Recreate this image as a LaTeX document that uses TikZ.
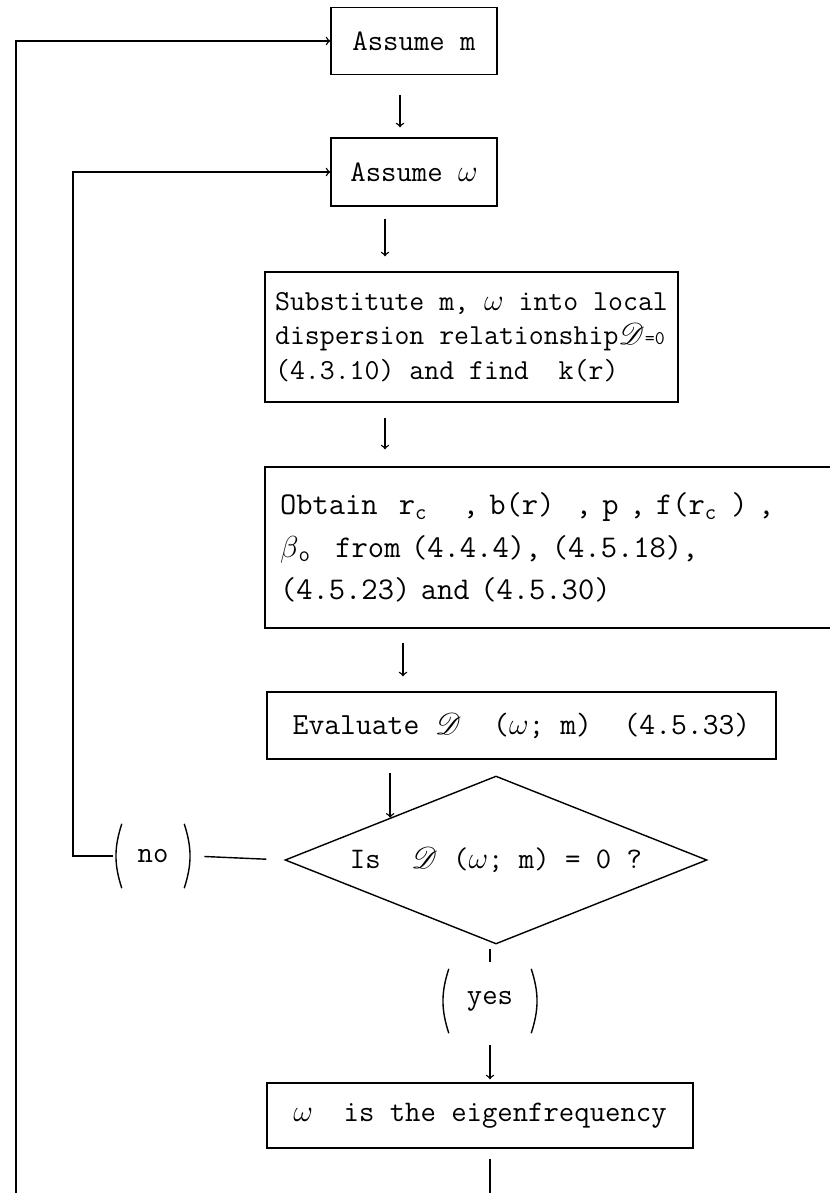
\documentclass[tikz,border=0pt]{standalone}
\usepackage{fontspec}
\usepackage{amsmath}
\usepackage{mathrsfs}
\usepackage{tikz}
\usetikzlibrary{
    shapes.geometric,
    positioning,
    calc,
    arrows
}
\newcommand{\lowsub}[1]{\makebox[0.5em][l]{$_{\text{#1}}$}}
\tikzset{
  basic/.style = {
      font=\fontsize{17}{21}\selectfont\ttfamily,
      align=center,
      inner sep=0pt
  },
  box/.style = {
      basic,
      draw,
      line width=0.8pt,
      rectangle
  },
  decision/.style = {
      basic,
      draw,
      line width=0.8pt,
      diamond,
      aspect=2.52,
      minimum width=8.44cm,
      minimum height=3.36cm
  },
  paren/.style = {
      basic,
      minimum width=1.6cm,
      minimum height=1.36cm,
      path picture={
        \draw[line width=0.8pt]
          ([xshift=5pt,yshift=-1pt]path picture bounding box.north west)
          to[bend right=18] ([xshift=5pt,yshift=1pt]path picture bounding box.south west);
        \draw[line width=0.8pt]
          ([xshift=-5pt,yshift=-1pt]path picture bounding box.north east)
          to[bend left=18] ([xshift=-5pt,yshift=1pt]path picture bounding box.south east);
      }
  },
  line/.style = {
      line width=0.8pt
  },
  flow/.style = {
      line,
      ->,
      >=to
  }
}

\begin{document}
\begin{tikzpicture}[x=0.02cm, y=-0.02cm]
    \useasboundingbox (0,0) rectangle (829,1193);
    % Nodes
    \node[box, minimum width=3.32cm, minimum height=1.34cm] (m) at (414,41) {Assume m};
    \node[box, minimum width=3.32cm, minimum height=1.36cm] (w) at (414,172) {Assume $\omega$};
    \node[box, minimum width=8.26cm, minimum height=2.6cm, align=left,
          font=\fontsize{16.5}{19.5}\selectfont\ttfamily] (sub) at (471.5,337)
        {Substitute m, $\omega$ into local\\
         dispersion relationship$\mathscr{D}${\fontsize{11}{12}\selectfont=0}\\
         (4.3.10) and find~~k(r)};
    \node[box, minimum width=11.8cm, minimum height=3.22cm, text width=11.2cm, align=left,
          font=\fontsize{18}{24}\selectfont\ttfamily] (obt) at (560,547.5)
        {Obtain~~r\lowsub{c}~~~,~b(r)~~,~p~,~f(r\lowsub{c}~)~,\\
         $\beta$\lowsub{o}~~from (4.4.4), (4.5.18),\\
         (4.5.23) and (4.5.30)};
    \node[box, minimum width=10.18cm, minimum height=1.34cm,
          font=\fontsize{17.5}{21}\selectfont\ttfamily] (eval) at (521.5,725.5)
        {Evaluate~$\mathscr{D}$~~($\omega$; m)~~(4.5.33)};
    \node[decision] (is) at (496,860) {Is~~$\mathscr{D}$~($\omega$; m) = 0 ?};
    \node[paren] (no) at (153,856) {no};
    \node[paren, minimum width=2cm] (yes) at (490,1001) {yes};
    \node[box, minimum width=8.52cm, minimum height=1.3cm] (eig) at (480,1115.5)
        {$\omega$~~is the eigenfrequency};
    \coordinate (outer) at (16,1193);
    \coordinate (inner) at (73,856);
    \coordinate (end) at (490,1193);
    % Edges
    \draw[flow, shorten <=0.4cm, shorten >=0.2cm] ([xshift=-0.28cm]m.south) -- ([xshift=-0.28cm]w.north);
    \draw[flow, shorten <=0.24cm, shorten >=0.3cm] ([xshift=-0.58cm]w.south) -- ([xshift=-0.58cm]w.south |- sub.north);
    \draw[flow, shorten <=0.3cm, shorten >=0.34cm] (sub.south -| w.south) ++(-0.58cm,0) coordinate (s1) -- (s1 |- obt.north);
    \draw[flow, shorten <=0.28cm, shorten >=0.3cm] ([xshift=-0.22cm]w.south |- obt.south) coordinate (s2) -- (s2 |- eval.north);
    \draw[flow, shorten <=0.26cm] (eval.south -| is.north west) -- (is.north west);
    \draw[line, shorten <=0.36cm, shorten >=0.22cm] (is.west) -- (no.east);
    \draw[flow] (no.west) -- (inner) |- (w.west);
    \draw[flow] (outer) |- (m.west);
    \draw[line, shorten <=0.08cm, shorten >=0.1cm] (is.south -| yes.north) -- (yes.north);
    \draw[flow, shorten <=0.2cm, shorten >=0.06cm] (yes.south) -- (yes.south |- eig.north);
    \draw[line, shorten <=0.2cm] (eig.south -| end) -- (end);
\end{tikzpicture}
\end{document}
